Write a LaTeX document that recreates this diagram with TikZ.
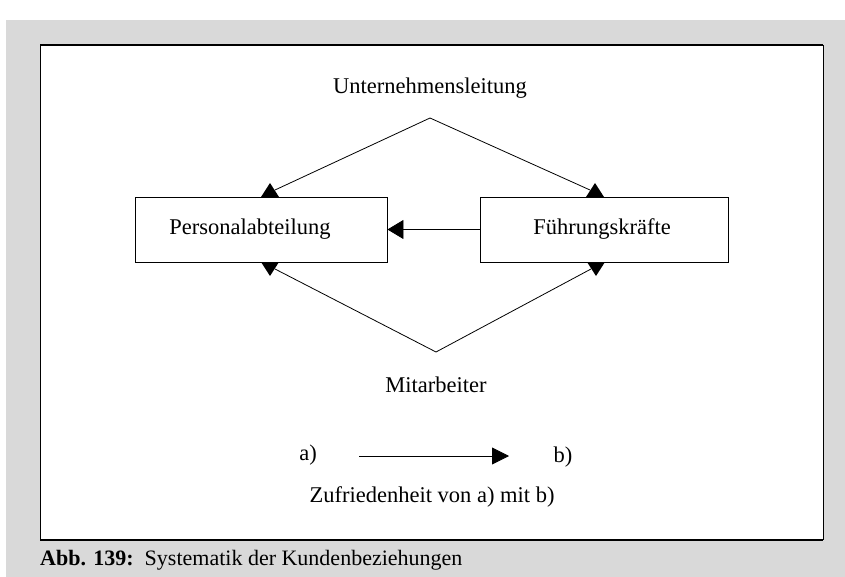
\documentclass[tikz,border=0pt]{standalone}
\usepackage{fontspec}
\setmainfont{Liberation Serif}
\usetikzlibrary{arrows.meta,calc}
\definecolor{bggray}{RGB}{217,217,217}
\tikzset{
  lbl/.style={font=\fontsize{22.5}{26}\selectfont, inner sep=0pt, anchor=center},
  unitbox/.style={draw, fill=white, line width=0.9pt, minimum height=65pt, inner sep=0pt},
  plain/.style={line width=0.8pt},
  conn/.style={line width=0.8pt, -{Triangle[length=16pt,width=19pt]}},
  headfill/.style={fill=black}
}
\begin{document}
\begin{tikzpicture}[x=1pt,y=-1pt]
\useasboundingbox (0,0) rectangle (845,577);
\fill[white] (0,0) rectangle (845,577);
\fill[bggray] (6,20) rectangle (845,577);
\fill[white] (40,45) rectangle (823,540);
\draw[line width=1.2pt] (40,45) -- (823,45);
\draw[line width=1.2pt] (40,540) -- (823,540);
\draw[line width=0.8pt] (40,45) -- (40,540);
\draw[line width=0.8pt] (823,45) -- (823,540);

\node[lbl] (ul) at (430,88) {Unternehmensleitung};
\coordinate (top) at (430,118);
\node[unitbox, minimum width=252pt] (pa) at (261,229.5) {};
\node[lbl] (patext) at (250,229.5) {Personalabteilung};
\node[unitbox, minimum width=248pt] (fk) at (604,229.5) {};
\node[lbl] (fktext) at (602,229.5) {Führungskräfte};
\coordinate (bot) at (436,352);
\node[lbl] (ma) at (436,385) {Mitarbeiter};

% upper connectors with heads on the box tops
\coordinate (pat) at (270,197);
\coordinate (fkt) at (595,197);
\draw[plain] (top) -- ($(pat)+(5,-7)$);
\draw[plain] (top) -- ($(fkt)+(-5,-7)$);
\fill[headfill] ($(pat)+(-9,0)$) -- ($(pat)+(0,-14)$) -- ($(pat)+(9,0)$) -- cycle;
\fill[headfill] ($(fkt)+(-9,0)$) -- ($(fkt)+(0,-14)$) -- ($(fkt)+(9,0)$) -- cycle;

% lower connectors with heads on the box bottoms
\coordinate (pab) at (270,262);
\coordinate (fkb) at (596,262);
\draw[plain] (bot) -- ($(pab)+(5,7)$);
\draw[plain] (bot) -- ($(fkb)+(-5,7)$);
\fill[headfill] ($(pab)+(-9,0)$) -- ($(pab)+(0,14)$) -- ($(pab)+(9,0)$) -- cycle;
\fill[headfill] ($(fkb)+(-9,0)$) -- ($(fkb)+(0,14)$) -- ($(fkb)+(9,0)$) -- cycle;

\draw[conn] (fk.west) -- (pa.east);

\node[lbl] (a) at (308,455) {a)};
\node[lbl] (b) at (563,457) {b)};
\coordinate (as) at (359,456);
\coordinate (ae) at (509,456);
\draw[line width=0.8pt, -{Triangle[length=17pt,width=17pt]}] (as) -- (ae);
\node[lbl] (zu) at (432,497) {Zufriedenheit von a) mit b)};

\node[anchor=west, inner sep=0pt, font=\fontsize{22}{26}\selectfont] (cap) at (40,560) {\textbf{Abb. 139:}\ \ Systematik der Kundenbeziehungen};
\end{tikzpicture}
\end{document}
